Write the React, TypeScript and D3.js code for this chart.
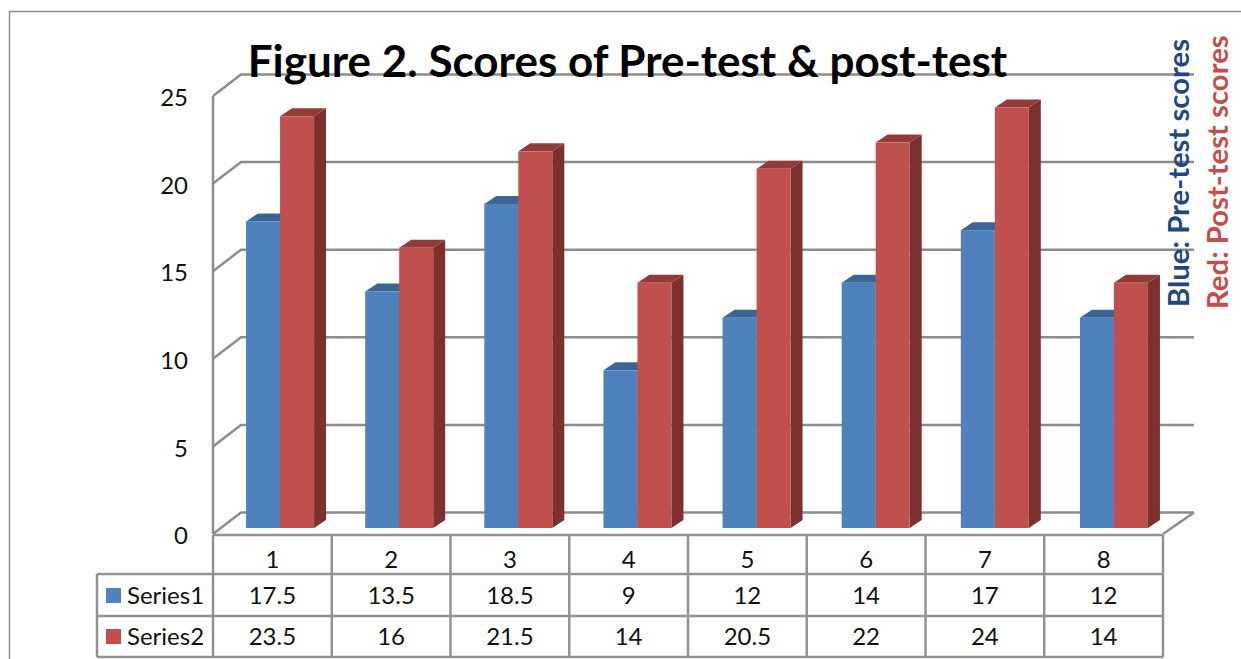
import React, { useEffect, useRef } from "react";
import * as d3 from "d3";

const categories = ["1", "2", "3", "4", "5", "6", "7", "8"];
const series1 = [17.5, 13.5, 18.5, 9, 12, 14, 17, 12];
const series2 = [23.5, 16, 21.5, 14, 20.5, 22, 24, 14];
const yTicks = [0, 5, 10, 15, 20, 25];

const width = 1241;
const height = 659;
const font = "Lato, Carlito, sans-serif";
const gridColor = "#8c8c8c";

function draw(ref: SVGSVGElement | null) {
	if (!ref) return;
	const svg = d3.select(ref);
	svg.selectAll("*").remove();

	// plot frame, front plane of the fake 3d box
	const left = 213,
		right = 1163,
		front0 = 534,
		front25 = 96;
	const depthX = 28,
		depthY = -21.5;

	const x = d3.scaleBand<string>().domain(categories).range([left, right]);
	// bars sit further back, so their band is shifted and slightly wider
	const xBar = d3.scaleBand<string>().domain(categories).range([220.5, 1173.5]);
	const yFront = d3.scaleLinear().domain([0, 25]).range([front0, front25]);
	const yBar = d3.scaleLinear().domain([0, 25]).range([528, 90]);

	// outer border, cropped on the right and bottom
	svg.append("path")
		.attr("d", `M${width},11.5H9.5V${height}`)
		.attr("fill", "none")
		.attr("stroke", "#8c8c8c")
		.attr("stroke-width", 1.5);

	const walls = svg.append("g").attr("fill", "none").attr("stroke", gridColor).attr("stroke-width", 2.5);

	yTicks.forEach((t) => {
		const y = yFront(t);
		walls.append("path").attr("d", `M${left},${y}L${left + depthX},${y + depthY}H${right + 31}`);
	});
	walls.append("path").attr("d", `M${left},${front25}V${front0}`);
	walls.append("path").attr("d", `M${right},${front0}L${right + 31},${front0 + depthY}`);

	// y tick labels
	svg.append("g")
		.selectAll("text")
		.data(yTicks)
		.join("text")
		.attr("x", 188)
		.attr("y", (d) => yFront(d) + 1.5)
		.attr("dy", "0.36em")
		.attr("text-anchor", "end")
		.attr("font-family", font)
		.attr("font-size", 24)
		.attr("fill", "#111")
		.text((d) => d);

	// bars
	const barW = 34,
		dx = 12,
		dy = -8;
	const bars = svg.append("g");

	function bar(value: number, x0: number, front: string, top: string, side: string) {
		const yTop = yBar(value);
		const yBase = yBar(0);
		bars.append("path")
			.attr("d", `M${x0 + barW},${yTop}l${dx},${dy}V${yBase + dy}l${-dx},${-dy}Z`)
			.attr("fill", side);
		bars.append("path")
			.attr("d", `M${x0},${yTop}l${dx},${dy}h${barW}l${-dx},${-dy}Z`)
			.attr("fill", top);
		bars.append("rect")
			.attr("x", x0)
			.attr("y", yTop)
			.attr("width", barW)
			.attr("height", yBase - yTop)
			.attr("fill", front);
	}

	categories.forEach((c, i) => {
		const mid = (xBar(c) as number) + xBar.bandwidth() / 2;
		bar(series1[i], mid - barW, "#4f81bd", "#3c6494", "#385d8a");
		bar(series2[i], mid, "#c0504d", "#943b39", "#7d302e");
	});

	// data table
	const tableLeft = 97;
	const rows = [535, 574, 616, 657];
	const table = svg.append("g").attr("fill", "none").attr("stroke", "#929292").attr("stroke-width", 2.5);
	rows.forEach((r, i) => {
		table.append("line")
			.attr("x1", i === 0 ? left : tableLeft)
			.attr("x2", right)
			.attr("y1", r)
			.attr("y2", r);
	});
	table.append("line").attr("x1", tableLeft).attr("x2", tableLeft).attr("y1", rows[1]).attr("y2", rows[3]);
	d3.range(categories.length + 1).forEach((i) => {
		const vx = left + i * x.step();
		table.append("line").attr("x1", vx).attr("x2", vx).attr("y1", rows[0]).attr("y2", rows[3]);
	});

	const cells = svg
		.append("g")
		.attr("font-family", font)
		.attr("font-size", 24)
		.attr("fill", "#111")
		.attr("text-anchor", "middle");
	const rowValues: (string | number)[][] = [categories, series1, series2];
	const rowText = [560, 596, 637];
	rowValues.forEach((vals, r) => {
		vals.forEach((v, i) => {
			cells.append("text")
				.attr("x", (x(categories[i]) as number) + x.bandwidth() / 2)
				.attr("y", rowText[r])
				.attr("dy", "0.34em")
				.text(v);
		});
	});

	// legend keys inside the table
	const legend = [
		{ name: "Series1", color: "#4f81bd", y: 596 },
		{ name: "Series2", color: "#c0504d", y: 637 },
	];
	legend.forEach((l) => {
		svg.append("rect").attr("x", 106).attr("y", l.y - 8).attr("width", 15).attr("height", 15).attr("fill", l.color);
		svg.append("text")
			.attr("x", 127)
			.attr("y", l.y)
			.attr("dy", "0.32em")
			.attr("font-family", font)
			.attr("font-size", 24)
			.attr("fill", "#111")
			.text(l.name);
	});

	// title
	svg.append("text")
		.attr("x", 627.5)
		.attr("y", 77)
		.attr("text-anchor", "middle")
		.attr("font-family", font)
		.attr("font-weight", 700)
		.attr("font-size", 44)
		.attr("fill", "#000")
		.text("Figure 2. Scores of Pre-test & post-test");

	// the two rotated notes on the right
	const notes = [
		{ text: "Blue: Pre-test scores", color: "#1f497d", x: 1189, y: 307 },
		{ text: "Red: Post-test scores", color: "#c0504d", x: 1228, y: 309 },
	];
	notes.forEach((n) => {
		svg.append("text")
			.attr("transform", `translate(${n.x},${n.y}) rotate(-90)`)
			.attr("font-family", font)
			.attr("font-weight", 700)
			.attr("font-size", 29.3)
			.attr("fill", n.color)
			.text(n.text);
	});
}

export default function App() {
	const ref = useRef<SVGSVGElement>(null);
	useEffect(() => {
		draw(ref.current);
	}, []);
	return (
		<svg
			ref={ref}
			width={width}
			height={height}
			style={{ position: "absolute", left: 0, top: 0, background: "#fff" }}
		/>
	);
}
